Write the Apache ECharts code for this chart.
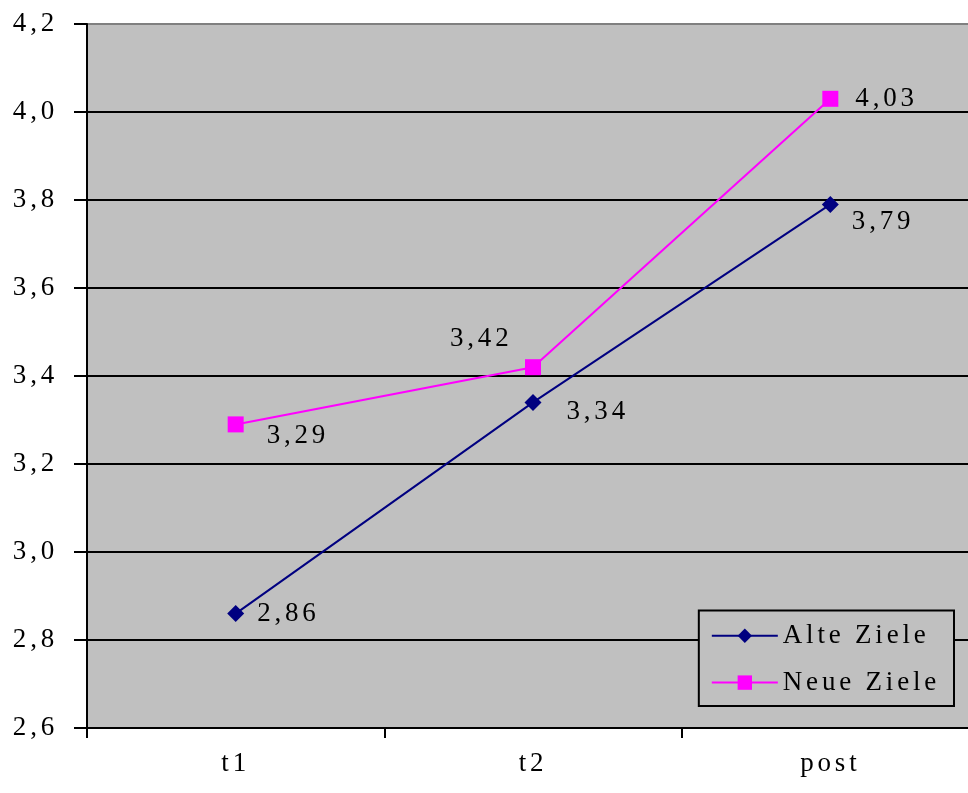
<!DOCTYPE html>
<html>
<head>
<meta charset="utf-8">
<script src="https://cdn.jsdelivr.net/npm/echarts@6/dist/echarts.min.js"></script>
<style>
html,body{margin:0;padding:0;background:#fff;}
#c{width:968px;height:793px;}
</style>
</head>
<body>
<div id="c"></div>
<script>
const categories = ['t1', 't2', 'post'];
const alteZiele = [2.86, 3.34, 3.79];
const neueZiele = [3.29, 3.42, 4.03];
const yTicks = [2.6, 2.8, 3.0, 3.2, 3.4, 3.6, 3.8, 4.0, 4.2];

// Wide letter spacing like the original (render only; text stays real text)
(function () {
  const P = CanvasRenderingContext2D.prototype;
  const oFill = P.fillText, oMeasure = P.measureText;
  P.fillText = function () { this.letterSpacing = '3.8px'; return oFill.apply(this, arguments); };
  P.measureText = function () { this.letterSpacing = '3.8px'; return oMeasure.apply(this, arguments); };
})();

const fmt = v => v.toFixed(2).replace('.', ',');
const font = '"Liberation Serif", "DejaVu Serif", serif';

const alteOffsets = [[8, 0], [20, 10], [8, 18]];
const neueOffsets = [[18, 12], [-96, -28], [12, 0]];

const chart = echarts.init(document.getElementById('c'));
chart.setOption({
  animation: false,
  backgroundColor: '#ffffff',
  grid: {
    left: 87, top: 24, width: 892, bottom: 65,
    outerBoundsMode: 'none',
    containLabel: false,
    show: true, backgroundColor: '#c0c0c0', borderWidth: 0
  },
  xAxis: {
    type: 'category',
    data: categories,
    boundaryGap: true,
    axisLine: { lineStyle: { color: '#000', width: 2 } },
    axisTick: { show: true, length: 10, lineStyle: { color: '#000', width: 2 } },
    axisLabel: { color: '#000', fontFamily: font, fontSize: 27, margin: 21 },
    splitLine: { show: false }
  },
  yAxis: {
    type: 'value',
    min: yTicks[0], max: yTicks[yTicks.length - 1], interval: 0.2,
    axisLine: { show: true, lineStyle: { color: '#000', width: 2 } },
    axisTick: { show: true, length: 13, lineStyle: { color: '#000', width: 2 } },
    axisLabel: {
      color: '#000', fontFamily: font, fontSize: 27, margin: 29,
      formatter: v => v.toFixed(1).replace('.', ',')
    },
    splitLine: {
      show: true,
      lineStyle: { color: ['#000', '#000', '#000', '#000', '#000', '#000', '#000', '#000', '#808080'], width: 2 }
    }
  },
  legend: {
    right: 14, bottom: 87,
    orient: 'vertical',
    backgroundColor: '#c0c0c0',
    borderColor: '#000', borderWidth: 2,
    padding: [10, 14, 8, 12],
    itemGap: 16,
    itemWidth: 66, itemHeight: 18,
    textStyle: { color: '#000', fontFamily: font, fontSize: 27 },
    data: ['Alte Ziele', 'Neue Ziele']
  },
  series: [
    {
      name: 'Alte Ziele',
      type: 'line',
      data: alteZiele.map((v, i) => ({
        value: v,
        label: { offset: alteOffsets[i] }
      })),
      symbol: 'diamond', symbolSize: 17,
      lineStyle: { color: '#000080', width: 2 },
      itemStyle: { color: '#000080' },
      label: {
        show: true, position: 'right', color: '#000',
        fontFamily: font, fontSize: 27, formatter: p => fmt(p.value)
      }
    },
    {
      name: 'Neue Ziele',
      type: 'line',
      data: neueZiele.map((v, i) => ({
        value: v,
        label: { offset: neueOffsets[i] }
      })),
      symbol: 'rect', symbolSize: 16,
      lineStyle: { color: '#ff00ff', width: 2 },
      itemStyle: { color: '#ff00ff' },
      label: {
        show: true, position: 'right', color: '#000',
        fontFamily: font, fontSize: 27, formatter: p => fmt(p.value)
      }
    }
  ]
});
</script>
</body>
</html>
